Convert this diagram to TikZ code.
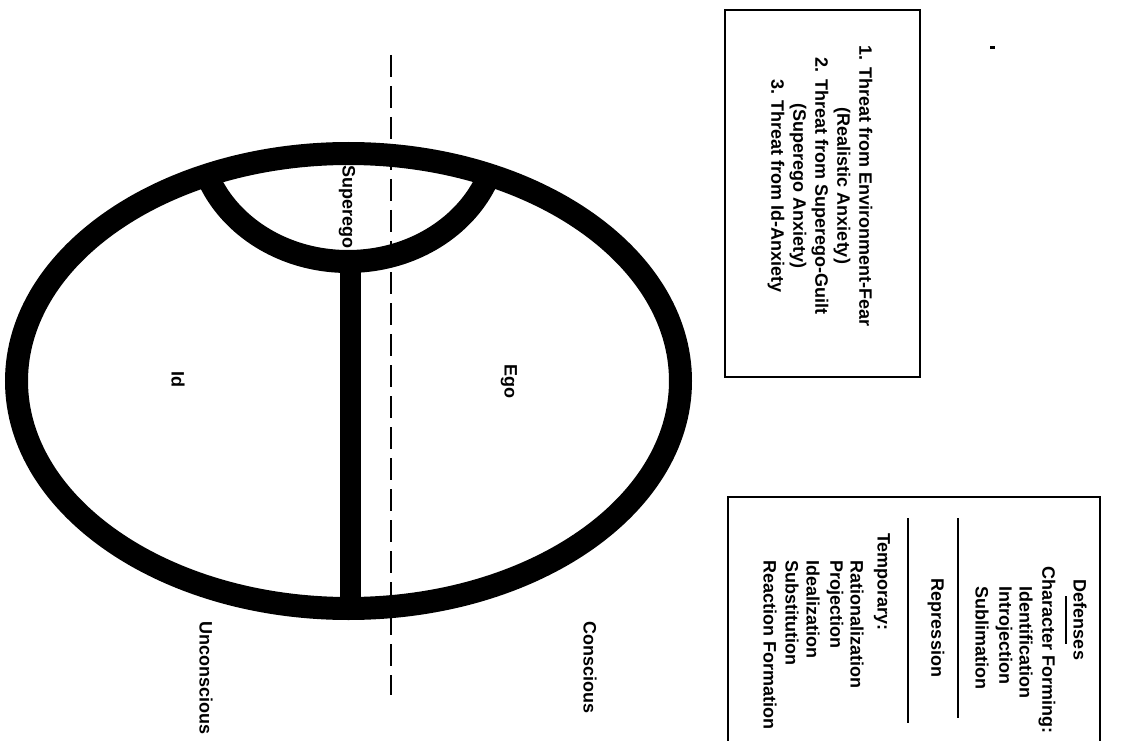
\documentclass[tikz,border=0pt]{standalone}
\usepackage{fontspec}
\setmainfont{Liberation Sans}
\begin{document}
\begin{tikzpicture}[x=1pt,y=-1pt,
  lbl/.style={font=\fontsize{18}{22}\selectfont\bfseries, inner sep=0pt, rotate=-90},
  band/.style={line width=23pt},
  bar/.style={line width=21pt},
  frame/.style={draw, line width=2.5pt, inner sep=0pt},
  rule/.style={line width=1.6pt},
  divider/.style={line width=2pt, dash pattern=on 22pt off 9pt}]
\useasboundingbox (0,0) rectangle (1128,741);
\clip (0,0) rectangle (1128,741);
% dividing line between conscious and unconscious
\coordinate (dtop) at (391,55);
\coordinate (dbot) at (391,695);
\draw[divider] (dtop) -- (dbot);
% psyche
\coordinate (C) at (348.5,381);
\begin{scope}
  \clip (C) ellipse [x radius=332, y radius=227.5];
  \draw[band] (348,130) ellipse [x radius=150, y radius=131.5];
\end{scope}
\draw[band] (C) ellipse [x radius=332, y radius=227.5];
\coordinate (sbot) at (350,255);
\coordinate (ebot) at (350,612);
\draw[bar] (sbot) -- (ebot);
% labels in the psyche
\node[lbl] (superego) at (347,207) {Superego};
\node[lbl] (ego) at (509,381) {Ego};
\node[lbl] (id) at (178,379) {Id};
\node[lbl, anchor=west] (conscious) at (590,621) {Conscious};
\node[lbl, anchor=west] (unconscious) at (206,621) {Unconscious};
% box of threats
\node[frame, minimum width=195pt, minimum height=367pt] (box1) at (822.5,193.5) {};
\node[lbl, align=center] (threats) at (820,186) {1. Threat from Environment-Fear\\(Realistic Anxiety)\\2. Threat from Superego-Guilt\\(Superego Anxiety)\\3. Threat from Id-Anxiety};
% box of defenses
\node[frame, minimum width=372pt, minimum height=320pt] (box2) at (914,657) {};
\node[lbl] (defenses) at (1080,620) {Defenses};
\coordinate (ul1) at (1066,596);
\coordinate (ul2) at (1066,644);
\draw[rule] (ul1) -- (ul2);
\node[lbl, anchor=west] (cf) at (1047,566) {Character Forming:};
\node[lbl, anchor=west] (ident) at (1026,586) {Identification};
\node[lbl, anchor=west] (intro) at (1004,586) {Introjection};
\node[lbl, anchor=west] (subl) at (982,586) {Sublimation};
\coordinate (r1a) at (958,518);
\coordinate (r1b) at (958,718);
\draw[rule] (r1a) -- (r1b);
\node[lbl] (repr) at (936,628) {Repression};
\coordinate (r2a) at (908,518);
\coordinate (r2b) at (908,723);
\draw[rule] (r2a) -- (r2b);
\node[lbl, anchor=west] (temp) at (882,533) {Temporary:};
\node[lbl, anchor=west] (rat) at (857,560) {Rationalization};
\node[lbl, anchor=west] (proj) at (835,560) {Projection};
\node[lbl, anchor=west] (ideal) at (813,560) {Idealization};
\node[lbl, anchor=west] (subst) at (792,560) {Substitution};
\node[lbl, anchor=west] (react) at (770,560) {Reaction Formation};
% stray mark
\fill (990,46.5) rectangle (995,49);
\end{tikzpicture}
\end{document}
